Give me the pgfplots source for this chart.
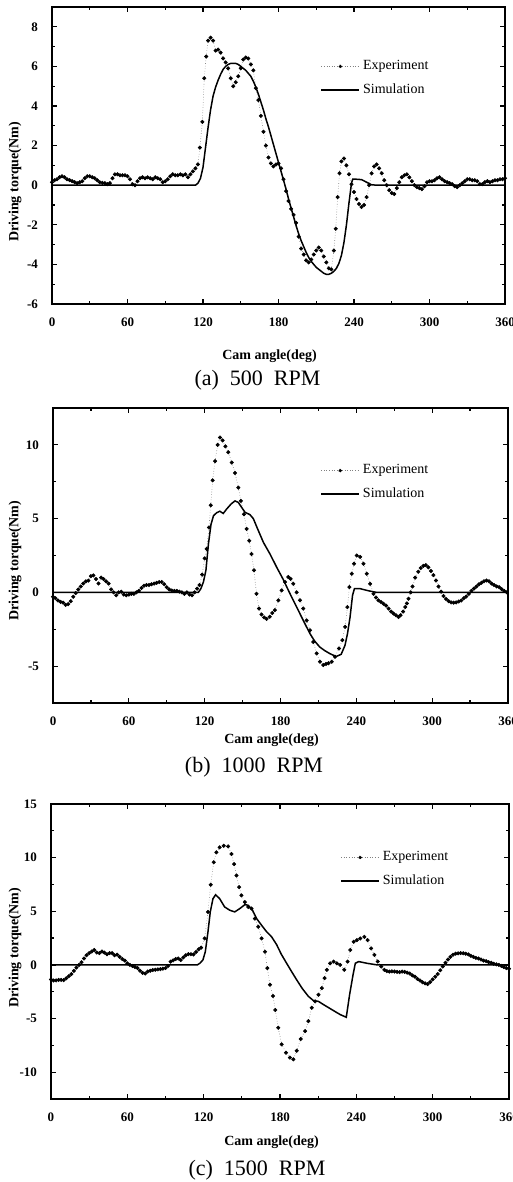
\documentclass[border=0pt]{standalone}
\usepackage{fontspec}
\setmainfont{Liberation Serif}
\usepackage{pgfplots}
\pgfplotsset{compat=1.18}

\pgfplotsset{
  torque/.style={
    scale only axis,
    xmin=0, xmax=360,
    xtick={0,60,...,360},
    minor x tick num=1, minor y tick num=1,
    axis line style={line width=0.9pt},
    every tick/.style={black, line width=0.6pt},
    major tick length=2.5pt, minor tick length=1.5pt,
    ticklabel style={font=\fontsize{6.5}{7}\selectfont\bfseries},
    /pgf/number format/assume math mode=true,
    xticklabel style={yshift=-3.5pt},
    yticklabel style={xshift=-3.5pt},
    legend style={draw=none, fill=none, font=\fontsize{7}{8}\selectfont,
      anchor=north west, row sep=2.5pt, inner sep=0pt,
      nodes={inner sep=1.5pt}},
    legend cell align=left,
  },
  exp/.style={densely dotted, line width=0.3pt, gray,
    mark=*, mark size=0.85pt, mark options={solid, black},
    legend image code/.code={
      \draw[densely dotted, line width=0.3pt, gray] (0pt,0pt) -- (19pt,0pt);
      \fill[black] (9.5pt,0pt) circle (0.85pt);}},
  sim/.style={black, line width=0.75pt, no markers,
    legend image code/.code={\draw[black, line width=0.75pt] (0pt,0pt) -- (19pt,0pt);}},
}

\begin{document}
\begin{tikzpicture}
\useasboundingbox (0,0) rectangle (256.5pt,591pt);

% ---------------- (a) 500 RPM
\begin{axis}[torque, at={(26pt,439pt)}, anchor=south west,
  width=226.5pt, height=148.5pt,
  ymin=-6, ymax=9, ytick={-6,-4,...,8},
  legend style={at={(rel axis cs:0.592,0.832)}}]
\addplot[exp] coordinates {
(0,0.15) (2,0.25) (4,0.3) (6,0.4) (8,0.45) (10,0.4) (12,0.3) (14,0.25) (16,0.2) (18,0.15)
(20,0.1) (22,0.15) (24,0.2) (26,0.35) (28,0.45) (30,0.45) (32,0.4) (34,0.35) (36,0.25) (38,0.15)
(40,0.12) (42,0.1) (44,0.05) (46,0.1) (48,0.35) (50,0.55) (52,0.55) (54,0.5) (56,0.5) (58,0.5)
(60,0.45) (62,0.3) (64,0.05) (66,0.0) (68,0.2) (70,0.35) (72,0.4) (74,0.35) (76,0.4) (78,0.35)
(80,0.3) (82,0.4) (84,0.35) (86,0.3) (88,0.15) (90,0.2) (92,0.3) (94,0.45) (96,0.55) (98,0.5)
(100,0.5) (102,0.55) (104,0.5) (106,0.55) (108,0.4) (110,0.55) (112,0.7) (114,0.85) (116,1.05)
(117.5,1.9) (119.5,3.2) (121,5.4) (122.5,6.5) (124,7.3) (126,7.45) (128,7.3) (130,6.8) (132,6.85)
(134,6.7) (136,6.4) (138,6.2) (140,5.9) (142,5.4) (144,5.0) (146,5.2) (148,5.5) (150,5.9)
(152,6.35) (154,6.45) (156,6.4) (158,6.1) (160,5.8) (162,4.9) (164,4.3) (166,3.5) (168,2.7)
(170,2.0) (172,1.4) (174,1.1) (176,0.95) (178,1.05) (180,1.1) (182,0.85) (184,0.3) (186,-0.3)
(188,-0.8) (190,-1.2) (192,-1.5) (194,-1.9) (196,-2.6) (198,-3.2) (200,-3.5) (202,-3.8)
(204,-3.9) (206,-3.75) (208,-3.5) (210,-3.3) (212,-3.15) (214,-3.3) (216,-3.6) (218,-3.9)
(220,-4.2) (222,-4.25) (224,-3.3) (225.5,-2.2) (227,-0.6) (228.5,0.6) (230,1.2) (232,1.35)
(234,1.0) (236,0.55) (238,0.05) (240,-0.35) (242,-0.7) (244,-0.95) (246,-1.1) (248,-1.0)
(250,-0.6) (252,0.0) (254,0.6) (256,0.95) (258,1.05) (260,0.85) (262,0.6) (264,0.25) (266,0.0)
(268,-0.25) (270,-0.4) (272,-0.45) (274,-0.15) (276,0.15) (278,0.4) (280,0.5) (282,0.55)
(284,0.4) (286,0.2) (288,0.0) (290,-0.1) (292,-0.15) (294,-0.2) (296,-0.05) (298,0.15)
(300,0.2) (302,0.2) (304,0.25) (306,0.35) (308,0.4) (310,0.3) (312,0.2) (314,0.15) (316,0.1)
(318,0.05) (320,-0.05) (322,-0.1) (324,0.0) (326,0.1) (328,0.2) (330,0.3) (332,0.3) (334,0.25)
(336,0.25) (338,0.2) (340,0.05) (342,0.05) (344,0.15) (346,0.2) (348,0.15) (350,0.2) (352,0.25)
(354,0.25) (356,0.3) (358,0.3) (360,0.35)
};
\addlegendentry{Experiment}
\addplot[sim] coordinates {
(0,0) (114,0) (116,0.1) (118,0.35) (120,0.9) (122,1.9) (124,2.9) (126,3.8) (128,4.5) (130,4.95)
(132,5.3) (134,5.6) (136,5.85) (138,6.0) (140,6.1) (142,6.15) (144,6.15) (146,6.15) (148,6.1)
(150,6.0) (152,5.9) (154,5.8) (156,5.65) (158,5.5) (160,5.25) (162,4.95) (164,4.6) (166,4.2)
(168,3.8) (170,3.35) (172,2.95) (174,2.5) (176,2.05) (178,1.6) (180,1.15) (182,0.7) (184,0.25)
(186,-0.2) (188,-0.7) (190,-1.15) (192,-1.6) (194,-2.05) (196,-2.45) (198,-2.8) (200,-3.1)
(202,-3.4) (204,-3.65) (206,-3.85) (208,-4.0) (210,-4.15) (212,-4.25) (214,-4.35) (216,-4.45)
(218,-4.5) (220,-4.5) (222,-4.45) (224,-4.35) (226,-4.2) (228,-3.95) (230,-3.55) (232,-2.9)
(234,-2.0) (236,-0.9) (238,0.1) (239,0.3) (242,0.3) (246,0.28) (250,0.15) (254,0.02) (258,0)
(360,0)
};
\addlegendentry{Simulation}
\end{axis}

% ---------------- (b) 1000 RPM
\begin{axis}[torque, at={(26.5pt,239.5pt)}, anchor=south west,
  width=227.5pt, height=147.5pt,
  ymin=-7.5, ymax=12.5, ytick={-5,0,5,10},
  legend style={at={(rel axis cs:0.587,0.82)}}]
\addplot[exp] coordinates {
(0,-0.3) (2,-0.4) (4,-0.55) (6,-0.65) (8,-0.7) (10,-0.85) (12,-0.8) (14,-0.6) (16,-0.3)
(18,-0.05) (20,0.2) (22,0.4) (24,0.6) (26,0.75) (28,0.8) (30,1.1) (32,1.15) (34,0.9) (36,0.6)
(38,1.0) (40,0.9) (42,0.75) (44,0.6) (46,0.2) (48,0.0) (50,-0.2) (52,0.0) (54,0.05) (56,-0.15)
(58,-0.2) (60,-0.15) (62,-0.1) (64,-0.1) (66,0.0) (68,0.1) (70,0.3) (72,0.45) (74,0.5) (76,0.5)
(78,0.55) (80,0.6) (82,0.65) (84,0.7) (86,0.7) (88,0.55) (90,0.35) (92,0.2) (94,0.13) (96,0.1)
(98,0.1) (100,0.05) (102,0.0) (104,-0.1) (106,0.0) (108,-0.15) (110,-0.2) (112,0.0) (114,0.25)
(116,0.5) (118,1.2) (120,2.3) (121.6,2.95) (123.4,4.4) (124.8,5.9) (126.3,7.6) (128.2,8.9)
(130.3,10.0) (132.1,10.5) (134.2,10.3) (136.4,9.9) (138.7,9.5) (141.4,8.8) (144,8.1) (146.6,7.1)
(148.7,6.2) (151.1,5.3) (153.2,4.3) (155.3,3.5) (157.1,2.6) (159,1.5) (161,-0.1) (163,-1.1)
(165,-1.5) (167,-1.7) (169,-1.8) (171.5,-1.65) (173.5,-1.4) (175.6,-1.2) (178.3,-0.54)
(180.9,0.13) (183.6,0.7) (186.2,1.04) (188,0.92) (190.1,0.58) (192.8,0.0) (195.4,-0.54)
(198,-1.1) (200.7,-1.9) (203.3,-2.57) (205.9,-3.36) (208.6,-4.14) (211.2,-4.7) (213.8,-4.93)
(216,-4.85) (218,-4.8) (220.5,-4.7) (223.1,-4.37) (226.3,-3.8) (228.9,-3.24) (231.1,-2.34)
(232.9,-1.0) (234.5,0.36) (236.4,1.26) (238.2,1.94) (240.3,2.5) (243,2.4) (245.6,1.94)
(248.3,1.26) (250.9,0.58) (253.6,-0.1) (255.5,-0.35) (257.5,-0.54) (259.5,-0.65) (261.5,-0.77)
(263.5,-0.9) (265.5,-1.1) (267.5,-1.3) (269.4,-1.44) (271.4,-1.55) (273.4,-1.67) (275,-1.55)
(277,-1.3) (278.7,-1.0) (280,-0.75) (281.3,-0.43) (283,0.0) (284.5,0.4) (286.6,1.0) (289,1.4)
(291,1.65) (293,1.8) (295,1.85) (297,1.7) (299,1.45) (301,1.17) (303,0.8) (305,0.4) (307,0.05)
(309,-0.25) (311,-0.45) (313,-0.6) (315,-0.68) (317,-0.7) (319,-0.68) (321,-0.62) (323,-0.55)
(325,-0.4) (327,-0.28) (329,-0.1) (331,0.1) (333,0.25) (335,0.4) (337,0.55) (339,0.65)
(341,0.75) (343,0.8) (345,0.75) (347,0.6) (349,0.5) (351,0.4) (353,0.35) (355,0.22) (357,0.1)
(359,0.0)
};
\addlegendentry{Experiment}
\addplot[sim] coordinates {
(0,0) (115,0) (117,0.25) (119,0.7) (121,1.5) (123,3.3) (125,4.6) (127,5.2) (129.5,5.4) (132,5.5)
(134.7,5.35) (137.4,5.65) (141,6.0) (144,6.2) (146.6,6.1) (149.2,5.77) (151.9,5.43)
(155.8,5.27) (158.5,5.0) (162.4,4.2) (166.4,3.4) (171.7,2.6) (177,1.7) (182,0.9) (187,0.0)
(192.8,-1.0) (198,-1.9) (203.3,-2.8) (207,-3.3) (211,-3.7) (215,-3.95) (219,-4.15) (224,-4.35)
(228,-4.2) (231,-3.6) (233,-2.8) (235,-1.7) (237,-0.2) (238.5,0.25) (243,0.25) (250,0.1)
(256,0) (360,0)
};
\addlegendentry{Simulation}
\end{axis}

% ---------------- (c) 1500 RPM
\begin{axis}[torque, at={(25.5pt,41.5pt)}, anchor=south west,
  width=229pt, height=147.5pt,
  ymin=-12.5, ymax=15, ytick={-10,-5,...,15},
  legend style={at={(rel axis cs:0.631,0.851)}}]
\addplot[exp] coordinates {
(0,-1.35) (2,-1.45) (4,-1.45) (6,-1.4) (8,-1.4) (10,-1.42) (12,-1.25) (14,-1.05) (16,-0.85)
(18,-0.56) (20,-0.25) (22,0.0) (24,0.25) (26,0.6) (28,0.9) (30,1.1) (32,1.25) (34,1.4)
(36,1.15) (38,1.1) (40,1.25) (42,1.15) (44,1.0) (46,1.1) (48,1.1) (50,0.9) (52,0.95) (54,0.75)
(56,0.55) (58,0.4) (60,0.15) (62,0.0) (64,-0.1) (66,-0.2) (68,-0.3) (70,-0.55) (72,-0.75)
(74,-0.8) (76,-0.62) (78,-0.55) (80,-0.48) (82,-0.45) (84,-0.42) (86,-0.4) (88,-0.35) (90,-0.3)
(92,-0.1) (94,0.3) (96,0.42) (98,0.55) (100,0.6) (102,0.45) (104,0.7) (106,0.9) (108,1.0)
(110,1.0) (112,0.98) (114,1.2) (116,1.45) (118,1.6) (120.8,2.47) (123.4,4.94) (125.5,7.47)
(127.9,9.57) (130,10.5) (132.6,10.96) (135.8,11.1) (139.2,11.05) (141.8,10.34) (143.9,9.4)
(145.8,8.33) (147.9,7.25) (149.7,6.48) (152.4,5.86) (155,5.4) (157.6,5.25) (160.3,4.32)
(162.9,3.55) (165.5,2.47) (168.2,1.23) (170,-0.3) (172.1,-1.85) (174.5,-2.9) (176.3,-4.2)
(178.6,-5.86) (181.3,-7.4) (184.7,-8.18) (187.8,-8.64) (190.5,-8.8) (193.1,-8.0) (196.3,-6.9)
(199.7,-6.17) (202.3,-5.25) (205,-4.0) (207.6,-3.4) (210.2,-2.78) (212.9,-2.16) (215,-1.23)
(216.8,-0.46) (219.4,0.15) (222.1,0.31) (224.7,0.15) (227.3,0.0) (230.5,-0.46) (233.1,0.31)
(235.2,1.39) (237.9,2.16) (240.5,2.31) (243.1,2.47) (246.3,2.62) (248.9,2.31) (251.6,1.54)
(254.2,0.93) (256.8,0.31) (259.5,-0.15) (262,-0.46) (264,-0.58) (266,-0.62) (268,-0.6)
(270,-0.62) (272,-0.65) (274,-0.68) (276,-0.62) (278,-0.65) (280,-0.72) (282,-0.8) (284,-0.98)
(286,-1.1) (288,-1.3) (290,-1.45) (292,-1.62) (294,-1.72) (296,-1.79) (298,-1.6) (300,-1.35)
(302,-1.1) (304,-0.85) (306,-0.5) (308,-0.15) (310,0.2) (312,0.5) (314,0.75) (316,0.95)
(318,1.05) (320,1.08) (322,1.1) (324,1.08) (326,1.05) (328,0.98) (330,0.85) (332,0.75)
(334,0.65) (336,0.6) (338,0.5) (340,0.4) (342,0.35) (344,0.25) (346,0.2) (348,0.1) (350,0.05)
(352,0.0) (354,-0.1) (356,-0.2) (358,-0.3) (360,-0.35)
};
\addlegendentry{Experiment}
\addplot[sim] coordinates {
(0,0) (115,0) (117,0.15) (119.4,0.46) (121.3,1.23) (123.4,3.1) (125.2,4.94) (127.3,6.17)
(129.4,6.54) (132.6,6.17) (136.5,5.4) (140.5,5.1) (144.4,4.94) (148.4,5.25) (152.4,5.62)
(155,5.56) (158.4,5.1) (161.6,4.32) (165.5,3.7) (169.4,3.1) (173.4,2.62) (177.3,1.9) (181,1.0)
(185.2,0.15) (189,-0.6) (193.1,-1.39) (197.5,-2.2) (202.3,-2.93) (206.3,-3.33) (210.2,-3.4)
(214.2,-3.7) (220.8,-4.17) (227.3,-4.63) (232.1,-4.88) (234.7,-2.78) (237.4,-0.93)
(239.2,0.15) (241.9,0.31) (248.4,0.15) (256.3,0) (360,0)
};
\addlegendentry{Simulation}
\end{axis}

% axis labels and captions
\begin{scope}[every node/.style={font=\fontsize{7}{8}\selectfont\bfseries, inner sep=0pt}]
\node[rotate=90] at (7.5pt,500pt) {Driving torque(Nm)};
\node[rotate=90] at (7.5pt,310.5pt) {Driving torque(Nm)};
\node[rotate=90] at (7.5pt,117pt) {Driving torque(Nm)};
\node at (134.75pt,413pt) {Cam angle(deg)};
\node at (135.75pt,221pt) {Cam angle(deg)};
\node at (135.75pt,20pt) {Cam angle(deg)};
\end{scope}
\begin{scope}[every node/.style={font=\fontsize{11}{13}\selectfont, inner sep=0pt}]
\node at (128.75pt,401pt) {(a)\ \ 500\ \ RPM};
\node at (127pt,207.5pt) {(b)\ \ 1000\ \ RPM};
\node at (128.5pt,6pt) {(c)\ \ 1500\ \ RPM};
\end{scope}
\end{tikzpicture}
\end{document}
